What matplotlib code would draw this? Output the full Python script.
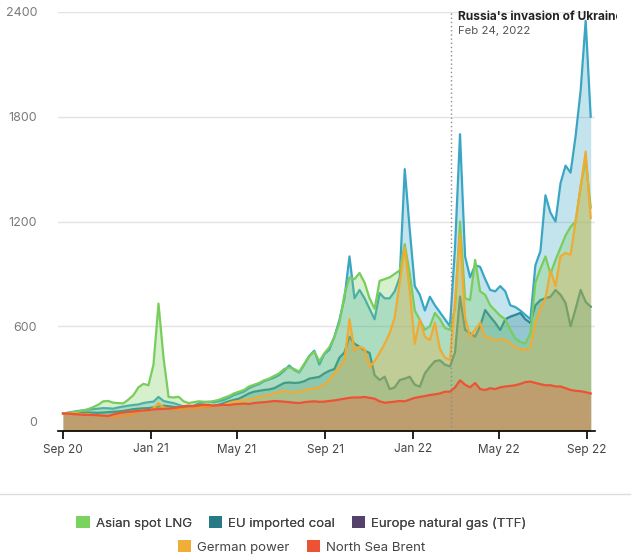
import matplotlib
matplotlib.use('Agg')
import matplotlib.pyplot as plt
from matplotlib.patches import Patch
from matplotlib.lines import Line2D
from matplotlib.transforms import ScaledTranslation, Bbox, TransformedBbox
import pandas as pd

plt.rcParams['font.family'] = ['Inter', 'DejaVu Sans']

# ---------------- data (index, Sep 2020 = 100), weekly ----------------
dates = pd.date_range('2020-09-01', periods=106, freq='7D')

ttf = [100, 105, 110, 115, 118, 122, 125, 128, 131, 130,
       128, 135, 140, 145, 149, 152, 160, 165, 168, 195,
       172, 165, 160, 150, 140, 137, 145, 158, 165, 168,
       165, 170, 178, 190, 206, 215, 225, 245, 258, 268,
       285, 295, 305, 320, 345, 375, 350, 335, 380, 430,
       460, 380, 440, 465, 540, 636, 760, 1000, 760, 808,
       760, 700, 640, 790, 760, 760, 800, 880, 1500, 1150,
       830, 780, 690, 769, 720, 680, 640, 600, 1050, 1700,
       1000, 880, 950, 940, 870, 808, 800, 830, 800, 720,
       710, 690, 665, 640, 950, 1030, 1350, 1250, 1200, 1420,
       1520, 1480, 1690, 1950, 2350, 1800]

asian_lng = [100, 103, 108, 112, 118, 125, 137, 150, 170, 172,
             162, 160, 158, 180, 205, 250, 270, 262, 380, 730,
             420, 195, 192, 196, 170, 160, 165, 170, 168, 165,
             172, 178, 190, 200, 215, 225, 235, 255, 265, 275,
             290, 300, 315, 330, 355, 365, 355, 340, 385, 430,
             455, 400, 445, 480, 540, 620, 780, 880, 870, 905,
             850, 760, 700, 860, 870, 880, 900, 920, 1070, 900,
             690, 636, 580, 600, 676, 640, 590, 580, 700, 1200,
             760, 750, 980, 800, 780, 720, 690, 660, 640, 580,
             530, 510, 500, 560, 850, 930, 1000, 900, 980, 1050,
             1120, 1170, 1200, 1400, 1560, 1280]

eu_coal = [100, 100, 102, 104, 105, 106, 105, 104, 106, 108,
           110, 112, 115, 120, 125, 128, 130, 131, 135, 140,
           145, 142, 138, 135, 132, 134, 136, 137, 138, 140,
           145, 150, 160, 170, 178, 185, 200, 215, 225, 230,
           235, 238, 245, 260, 275, 278, 275, 277, 285, 300,
           305, 310, 330, 345, 355, 420, 450, 540, 500, 483,
           460, 447, 320, 292, 311, 240, 250, 292, 300, 311,
           265, 254, 330, 368, 400, 405, 380, 370, 450, 770,
           580, 560, 540, 600, 693, 655, 620, 578, 640, 655,
           665, 676, 640, 619, 720, 750, 760, 769, 808, 780,
           733, 600, 700, 808, 740, 712]

german_power = [100, 98, 102, 100, 95, 96, 92, 90, 88, 86,
                84, 85, 86, 90, 100, 110, 120, 115, 130, 160,
                135, 128, 125, 126, 124, 128, 130, 134, 139, 140,
                142, 145, 150, 160, 168, 172, 178, 180, 185, 196,
                200, 205, 215, 225, 228, 225, 222, 225, 235, 240,
                245, 250, 268, 290, 330, 368, 400, 640, 460, 483,
                470, 368, 400, 447, 500, 560, 650, 850, 1050, 800,
                500, 640, 540, 521, 620, 470, 420, 407, 750, 1130,
                650, 540, 580, 620, 540, 530, 521, 525, 521, 500,
                480, 470, 464, 480, 620, 700, 760, 920, 830, 1000,
                1020, 1010, 1200, 1400, 1600, 1220]

brent = [100, 100, 97, 95, 93, 92, 92, 90, 88, 86,
         95, 102, 106, 110, 112, 115, 118, 120, 124, 125,
         127, 128, 131, 135, 142, 145, 143, 148, 150, 149,
         145, 148, 150, 148, 153, 155, 157, 155, 160, 163,
         165, 168, 172, 170, 168, 165, 162, 160, 165, 168,
         170, 167, 168, 172, 175, 180, 185, 190, 192, 192,
         195, 190, 185, 170, 162, 165, 168, 172, 170, 180,
         190, 195, 200, 206, 210, 215, 225, 225, 250, 290,
         265, 250, 275, 240, 235, 245, 240, 250, 255, 258,
         262, 270, 280, 283, 275, 268, 262, 262, 255, 255,
         245, 235, 230, 228, 222, 215]

legend_names = ["Asian spot LNG", "EU imported coal", "Europe natural gas (TTF)",
                "German power", "North Sea Brent"]
legend_colors = ['#7bd35f', '#267a85', '#54426a', '#f0ae38', '#ee5234']

tick_dates = ['2020-09-01', '2021-01-01', '2021-05-01', '2021-09-01',
              '2022-01-01', '2022-05-01', '2022-09-01']
tick_labels = ['Sep 20', 'Jan 21', 'May 21', 'Sep 21', 'Jan 22', 'May 22', 'Sep 22']
y_ticks = [0, 600, 1200, 1800, 2400]
event_date = '2022-02-24'
event_title = "Russia's invasion of Ukraine"
event_sub = "Feb 24, 2022"

# ---------------- figure ----------------
fig = plt.figure(figsize=(6.36, 5.6), dpi=100)
ax = fig.add_axes([58 / 636, 129 / 560, 537 / 636, 419 / 560])

layers = [
    (eu_coal, '#267a85'),
    (ttf, '#3aa6c4'),
    (asian_lng, '#78cd5c'),
    (german_power, '#f0ab33'),
    (brent, '#ee5234'),
]
z = 2
for vals, col in layers:
    ax.fill_between(dates, 0, vals, color=col, alpha=0.3, lw=0, zorder=z)
    ax.plot(dates, vals, color=col, lw=1.6, solid_joinstyle='round', zorder=z + 0.5)
    z += 1

ax.set_xlim(pd.Timestamp('2020-08-25'), pd.Timestamp('2022-09-12'))
ax.set_ylim(0, 2400)

ax.set_yticks(y_ticks)
ax.set_yticklabels([str(v) for v in y_ticks])
ax.set_xticks(pd.to_datetime(tick_dates))
ax.set_xticklabels(tick_labels)

ax.yaxis.grid(True, color='#e3e3e3', lw=1)
ax.set_axisbelow(True)
for s in ['left', 'right', 'top']:
    ax.spines[s].set_visible(False)
ax.spines['bottom'].set_color('black')
ax.spines['bottom'].set_linewidth(1.2)
ax.spines['bottom'].set_zorder(20)

ax.tick_params(axis='y', length=0, pad=15, labelsize=9, labelcolor='#7a7a7a')
ax.tick_params(axis='x', length=6, width=1.2, color='black', pad=3,
               labelsize=8.5, labelcolor='#444444')

# shift the "0" label up a bit
zero_tick = ax.yaxis.get_major_ticks()[0]
zero_tick.label1.set_transform(zero_tick.label1.get_transform() +
                               ScaledTranslation(0, 9 / 100, fig.dpi_scale_trans))

# event marker
ax.axvline(pd.Timestamp(event_date), ymin=0, ymax=1.0, color='#8a8a8a', lw=1,
           ls=(0, (1, 2)), zorder=15, clip_on=False)
clipbox = TransformedBbox(Bbox([[0, 0], [617 / 636, 1]]), fig.transFigure)
t1 = fig.text(458 / 636, 1 - 17 / 560, event_title, fontsize=8.6, fontweight='bold',
              color='#222222', va='center', ha='left')
t1.set_clip_box(clipbox)
t1.set_clip_on(True)
fig.text(458 / 636, 1 - 31 / 560, event_sub, fontsize=8.2, color='#555555',
         va='center', ha='left')

# separator line
fig.add_artist(Line2D([0.0, 0.99], [1 - 494 / 560] * 2, transform=fig.transFigure,
                      color='#dddddd', lw=1))

# legend
handles = [Patch(facecolor=c, edgecolor='none', label=n)
           for n, c in zip(legend_names, legend_colors)]
common = dict(loc='center', frameon=False, fontsize=9.5, handlelength=1.0,
              handleheight=1.0, handletextpad=0.45, columnspacing=1.3,
              labelcolor='#444444', borderpad=0, borderaxespad=0)
leg1 = fig.legend(handles=handles[:3], ncol=3,
                  bbox_to_anchor=(301.5 / 636, 1 - 523 / 560), **common)
fig.add_artist(leg1)
fig.legend(handles=handles[3:], ncol=2,
           bbox_to_anchor=(301.5 / 636, 1 - 547 / 560), **common)

fig.savefig('out.png', dpi=100)
